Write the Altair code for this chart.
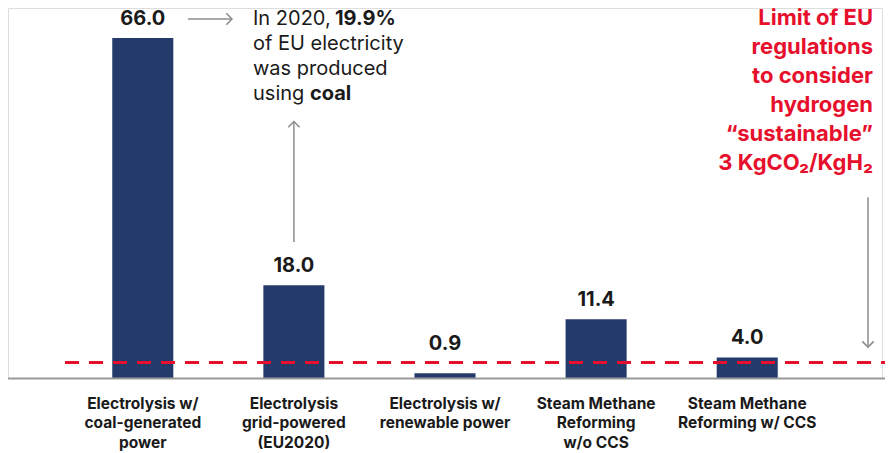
import altair as alt
import pandas as pd

# ---- data ----
categories = [
    "Electrolysis w/|coal-generated|power",
    "Electrolysis|grid-powered|(EU2020)",
    "Electrolysis w/|renewable power",
    "Steam Methane|Reforming|w/o CCS",
    "Steam Methane|Reforming w/ CCS",
]
values = [66.0, 18.0, 0.9, 11.4, 4.0]
limit_value = [3.0]
limit_text = ["Limit of EU", "regulations", "to consider", "hydrogen",
              "\u201csustainable\u201d", "3 KgCO\u2082/KgH\u2082"]

BAR = "#243a6b"
RED = "#e6102c"
GRAY = "#8c8c8c"
TXT = "#1a1a1a"
FONT = "Inter"

df = pd.DataFrame({"cat": categories, "value": values})
df["label"] = [f"{v:.1f}" for v in values]

W, H = 874, 370
YMAX = 66 * 370 / 340

xenc = alt.X("cat:N", sort=categories,
             scale=alt.Scale(paddingInner=0.596, paddingOuter=0.69),
             axis=alt.Axis(title=None, domain=False, ticks=False, labelAngle=0,
                           labelExpr="split(datum.label, '|')",
                           labelFont=FONT, labelFontSize=15.5, labelFontWeight="bold",
                           labelColor=TXT, labelLineHeight=19.7, labelBaseline="top",
                           labelPadding=18, labelLimit=300, labelOverlap=False))
yscale = alt.Scale(domain=[0, YMAX], nice=False)

bars = alt.Chart(df).mark_bar(color=BAR).encode(
    x=xenc, y=alt.Y("value:Q", scale=yscale, axis=None))

# value labels sit above the bar or above the limit line, whichever is higher
vals = alt.Chart(df).transform_calculate(
    ly=f"max(datum.value, {limit_value[0]})"
).mark_text(font=FONT, fontSize=20, fontWeight="bold", color=TXT,
            baseline="middle", dy=-19).encode(
    x=alt.X("cat:N", sort=categories), y=alt.Y("ly:Q", scale=yscale), text="label:N")

one = pd.DataFrame({"a": [0]})

baseline = alt.Chart(one).mark_rule(color="#999999", strokeWidth=2).encode(
    x=alt.value(0), x2=alt.value(877), y=alt.value(H + 0.5))

limit = alt.Chart(pd.DataFrame({"v": limit_value})).mark_rule(
    color=RED, strokeWidth=3, strokeDash=[14, 10]).encode(
    x=alt.value(57), x2=alt.value(877), y=alt.Y("v:Q", scale=yscale))

limit_lbl = alt.Chart(pd.DataFrame({"t": ["\n".join(limit_text)]})).mark_text(
    font=FONT, fontSize=22, fontWeight="bold", color=RED, align="right",
    baseline="alphabetic", lineBreak="\n", lineHeight=29).encode(
    x=alt.value(865), y=alt.value(17), text="t:N")

# annotation text
ann_reg = alt.Chart(pd.DataFrame({
    "t": ["In 2020,", "of EU electricity", "was produced", "using"],
    "px": [245, 245, 245, 245],
    "py": [17, 42, 67, 92]})).mark_text(
    font=FONT, fontSize=20, color=TXT, align="left", baseline="alphabetic").encode(
    x=alt.X("px:Q", scale=None), y=alt.Y("py:Q", scale=None), text="t:N")
ann_bold = alt.Chart(pd.DataFrame({
    "t": ["19.9%", "coal"], "px": [327, 302], "py": [17, 92]})).mark_text(
    font=FONT, fontSize=20, fontWeight="bold", color=TXT, align="left",
    baseline="alphabetic").encode(
    x=alt.X("px:Q", scale=None), y=alt.Y("py:Q", scale=None), text="t:N")

# arrows
chev = "M -1 -1 L 0 0 L -1 1"
h_line = alt.Chart(one).mark_rule(color=GRAY, strokeWidth=1.5).encode(
    x=alt.value(180), x2=alt.value(223), y=alt.value(11))
h_head = alt.Chart(one).mark_point(shape=chev, filled=False, size=130, strokeWidth=1.5,
                                   color=GRAY, opacity=1).encode(
    x=alt.value(224), y=alt.value(11))

v_df = pd.DataFrame({"cat": [categories[1]], "y1": [26.4], "y2": [49.8]})
v_line = alt.Chart(v_df).mark_rule(color=GRAY, strokeWidth=1.5).encode(
    x=alt.X("cat:N", sort=categories), y=alt.Y("y1:Q", scale=yscale), y2="y2:Q")
v_head = alt.Chart(v_df).mark_point(shape=chev, filled=False, size=130, strokeWidth=1.5,
                                    color=GRAY, opacity=1, angle=270).encode(
    x=alt.X("cat:N", sort=categories), y=alt.Y("y2:Q", scale=yscale))

r_df = pd.DataFrame({"y1": [35.1], "y2": [6.0]})
r_line = alt.Chart(r_df).mark_rule(color=GRAY, strokeWidth=1.5).encode(
    x=alt.value(860), y=alt.Y("y1:Q", scale=yscale), y2="y2:Q")
r_head = alt.Chart(r_df).mark_point(shape=chev, filled=False, size=130, strokeWidth=1.5,
                                    color=GRAY, opacity=1, angle=90).encode(
    x=alt.value(860), y=alt.Y("y2:Q", scale=yscale))

chart = alt.layer(
    bars, baseline, limit, vals, limit_lbl, ann_reg, ann_bold,
    h_line, h_head, v_line, v_head, r_line, r_head
).properties(
    width=W, height=H,
    padding={"top": 0, "left": 0, "right": 3, "bottom": 78},
    autosize=alt.AutoSizeParams(type="none"),
).configure_view(stroke=None).configure(background="white")

chart.save("out.html", embed_options={"renderer": "svg", "actions": False})
